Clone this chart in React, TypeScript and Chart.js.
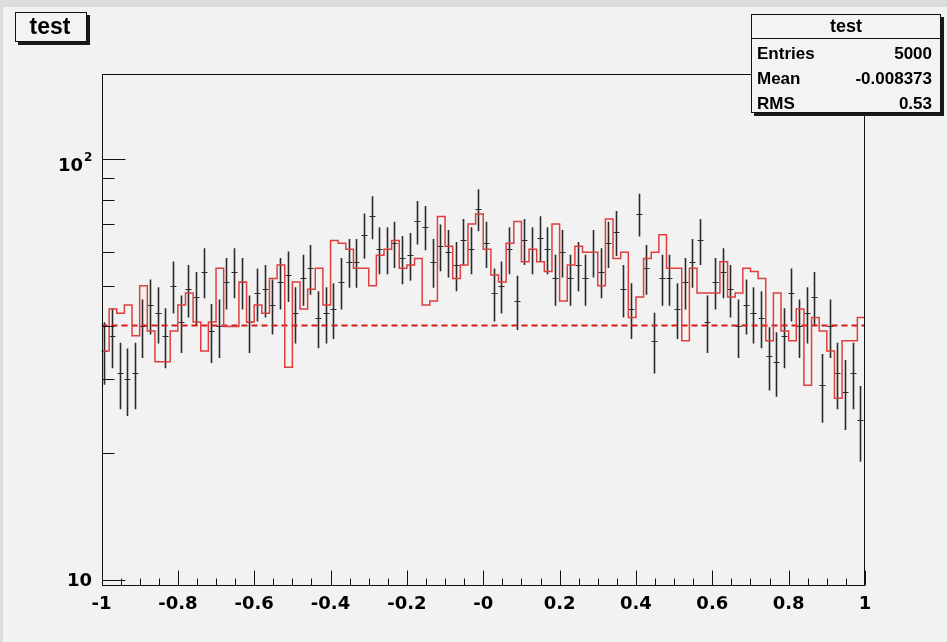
import React, { useEffect, useRef } from 'react';
import { Chart, registerables } from 'chart.js';

Chart.register(...registerables);

// ---- data ----
const X_MIN = -1;
const X_MAX = 1;
const BIN_COUNT = 100;

// black points (counts with sqrt(N) errors)
const dataCounts = [
  35, 38, 31, 30, 31, 40, 45, 43, 38, 50, 41, 49, 47, 54, 39, 40, 51, 54, 51, 41, 48, 49, 45, 51, 53,
  43, 52, 55, 42, 43, 44, 51, 57, 57, 66, 73, 61, 61, 63, 58, 59, 71, 69, 57, 62, 60, 56, 64, 61, 76,
  63, 48, 50, 61, 46, 64, 61, 65, 61, 52, 60, 52, 56, 52, 60, 54, 63, 67, 49, 44, 74, 55, 37, 52, 52,
  44, 51, 57, 64, 41, 51, 54, 49, 40, 45, 43, 42, 34, 33, 38, 48, 40, 43, 47, 29, 40, 31, 28, 31, 24,
];

// red step histogram
const refCounts = [
  35, 44, 43, 45, 38, 50, 39, 33, 33, 39, 45, 48, 41, 35, 41, 55, 40, 40, 51, 41, 45, 43, 52, 56, 32,
  51, 44, 49, 55, 45, 64, 63, 61, 55, 55, 50, 59, 61, 64, 55, 56, 58, 45, 46, 73, 62, 52, 56, 70, 74,
  61, 53, 51, 63, 71, 57, 61, 57, 54, 70, 46, 56, 62, 60, 60, 50, 72, 58, 60, 42, 47, 58, 60, 66, 55,
  55, 37, 55, 48, 48, 48, 57, 47, 48, 55, 54, 52, 37, 48, 39, 37, 44, 29, 42, 39, 35, 27, 37, 37, 42,
];

// red dashed constant level
const fitLevel = 40.2;

const Y_MIN = 9.68;
const Y_MAX = 159;

const xTickValues = [-1, -0.8, -0.6, -0.4, -0.2, 0, 0.2, 0.4, 0.6, 0.8, 1];
const xTickLabels = ['-1', '-0.8', '-0.6', '-0.4', '-0.2', '-0', '0.2', '0.4', '0.6', '0.8', '1'];
const xMinorStep = 0.05;
const yMajorValues = [10, 100];
const yMinorValues = [20, 30, 40, 50, 60, 70, 80, 90];

const titleText = 'test';
const statsTitle = 'test';
const statsLabels = ['Entries', 'Mean', 'RMS'];
const statsValues = ['5000', '-0.008373', '0.53'];

const FONT = '"Liberation Sans", Arial, Helvetica, sans-serif';
const AXIS_FONT = '"DejaVu Sans", "Liberation Sans", sans-serif';

function drawShadowBox(ctx: CanvasRenderingContext2D, x: number, y: number, w: number, h: number) {
  ctx.fillStyle = '#1a1a1a';
  ctx.fillRect(x + 3, y + 3, w, h);
  ctx.fillStyle = '#f3f3f3';
  ctx.fillRect(x, y, w, h);
  ctx.strokeStyle = '#111';
  ctx.lineWidth = 1;
  ctx.strokeRect(x + 0.5, y + 0.5, w - 1, h - 1);
}

const rootPlugin = {
  id: 'rootStyle',
  beforeDraw(chart: any) {
    const { ctx, width, height } = chart;
    ctx.save();
    ctx.fillStyle = '#f2f2f2';
    ctx.fillRect(0, 0, width, height);
    ctx.fillStyle = '#dcdcdc';
    ctx.fillRect(0, 0, width, 7);
    ctx.fillRect(0, 0, 3, height);
    ctx.restore();
  },
  beforeDatasetsDraw(chart: any) {
    const { ctx, chartArea } = chart;
    const xs = chart.scales.x;
    const ys = chart.scales.y;
    const w = (X_MAX - X_MIN) / BIN_COUNT;
    ctx.save();
    ctx.beginPath();
    ctx.rect(chartArea.left, chartArea.top, chartArea.right - chartArea.left, chartArea.bottom - chartArea.top);
    ctx.clip();
    ctx.strokeStyle = '#2a2a2a';
    for (let i = 0; i < dataCounts.length; i++) {
      const v = dataCounts[i];
      const e = Math.sqrt(v);
      const cx = Math.round(xs.getPixelForValue(X_MIN + (i + 0.5) * w)) - 0.5;
      const yTop = ys.getPixelForValue(v + e);
      const yBot = ys.getPixelForValue(Math.max(v - e, Y_MIN * 0.9));
      const yMid = Math.round(ys.getPixelForValue(v)) + 0.5;
      ctx.lineWidth = 1.6;
      ctx.beginPath();
      ctx.moveTo(cx, yTop);
      ctx.lineTo(cx, yBot);
      ctx.stroke();
      ctx.lineWidth = 1.2;
      ctx.beginPath();
      ctx.moveTo(cx - 3, yMid);
      ctx.lineTo(cx + 3, yMid);
      ctx.stroke();
    }
    ctx.restore();
  },
  afterDatasetsDraw(chart: any) {
    const { ctx, chartArea } = chart;
    const xs = chart.scales.x;
    const ys = chart.scales.y;
    const L = chartArea.left, R = chartArea.right, T = chartArea.top, B = chartArea.bottom;
    ctx.save();
    ctx.strokeStyle = '#111';
    ctx.lineWidth = 1;
    const l = Math.round(L) + 0.5, r = Math.round(R) - 0.5, t = Math.round(T) + 0.5, b = Math.round(B) - 0.5;
    ctx.strokeRect(l, t, r - l, b - t);
    // x ticks
    ctx.beginPath();
    const nMinor = Math.round((X_MAX - X_MIN) / xMinorStep);
    for (let k = 0; k <= nMinor; k++) {
      const v = X_MIN + k * xMinorStep;
      const px = Math.round(xs.getPixelForValue(v)) + 0.5;
      const isMajor = xTickValues.some((m) => Math.abs(m - v) < 1e-9);
      const len = isMajor ? 15 : 7;
      ctx.moveTo(px, b);
      ctx.lineTo(px, b - len);
    }
    // y ticks
    for (const v of yMajorValues) {
      const py = Math.round(ys.getPixelForValue(v)) + 0.5;
      ctx.moveTo(l, py);
      ctx.lineTo(l + 23, py);
    }
    for (const v of yMinorValues) {
      const py = Math.round(ys.getPixelForValue(v)) + 0.5;
      ctx.moveTo(l, py);
      ctx.lineTo(l + 12, py);
    }
    ctx.stroke();

    // y labels
    ctx.fillStyle = '#000';
    ctx.textAlign = 'right';
    ctx.textBaseline = 'middle';
    ctx.font = `bold 18px ${AXIS_FONT}`;
    const y10 = ys.getPixelForValue(10);
    ctx.fillText('10', 92, y10 + 1);
    const y100 = ys.getPixelForValue(100);
    ctx.fillText('10', 83, y100 + 7);
    ctx.font = `bold 12px ${AXIS_FONT}`;
    ctx.textAlign = 'left';
    ctx.fillText('2', 84, y100 - 1);
    ctx.restore();
  },
  afterDraw(chart: any) {
    const { ctx } = chart;
    ctx.save();
    // title box
    drawShadowBox(ctx, 15, 12, 72, 30);
    ctx.fillStyle = '#000';
    ctx.font = `bold 23px ${FONT}`;
    ctx.textAlign = 'center';
    ctx.textBaseline = 'middle';
    ctx.fillText(titleText, 50, 28);

    // stats box
    const bx = 751, by = 14, bw = 190, bh = 99;
    drawShadowBox(ctx, bx, by, bw, bh);
    ctx.beginPath();
    ctx.moveTo(bx, by + 24.5);
    ctx.lineTo(bx + bw, by + 24.5);
    ctx.stroke();
    ctx.fillStyle = '#000';
    ctx.font = `bold 18px ${FONT}`;
    ctx.textAlign = 'center';
    ctx.fillText(statsTitle, bx + bw / 2, by + 13);
    ctx.font = `bold 17px ${FONT}`;
    const rowsY = [54, 79, 104];
    for (let i = 0; i < statsLabels.length; i++) {
      ctx.textAlign = 'left';
      ctx.fillText(statsLabels[i], 757, rowsY[i]);
      ctx.textAlign = 'right';
      ctx.fillText(statsValues[i], 932, rowsY[i]);
    }
    ctx.restore();
  },
};

export default function App() {
  const canvasRef = useRef<HTMLCanvasElement | null>(null);

  useEffect(() => {
    document.body.style.margin = '0';
    document.body.style.background = '#f2f2f2';
    const canvas = canvasRef.current;
    if (!canvas) return;
    const w = (X_MAX - X_MIN) / BIN_COUNT;
    const histPoints = refCounts.map((v, i) => ({ x: X_MIN + i * w, y: v }));
    histPoints.push({ x: X_MAX, y: refCounts[refCounts.length - 1] });

    const chart = new Chart(canvas, {
      type: 'line',
      data: {
        datasets: [
          {
            label: 'hist',
            data: histPoints,
            stepped: 'before',
            borderColor: 'rgb(222,62,62)',
            borderWidth: 1.5,
            pointRadius: 0,
            fill: false,
            tension: 0,
          },
          {
            label: 'fit',
            data: [
              { x: X_MIN, y: fitLevel },
              { x: X_MAX, y: fitLevel },
            ],
            borderColor: 'rgb(215,25,25)',
            borderWidth: 2,
            borderDash: [6, 4],
            pointRadius: 0,
            fill: false,
          },
        ],
      },
      options: {
        animation: false,
        responsive: false,
        devicePixelRatio: 1,
        layout: { padding: { left: 0, top: 74, right: 82, bottom: 0 } },
        plugins: {
          legend: { display: false },
          tooltip: { enabled: false },
          title: { display: false },
        },
        scales: {
          x: {
            type: 'linear',
            min: X_MIN,
            max: X_MAX,
            grid: { display: false, drawTicks: false },
            border: { display: false },
            afterBuildTicks: (scale: any) => {
              scale.ticks = xTickValues.map((v) => ({ value: v }));
            },
            afterFit: (scale: any) => {
              scale.height = 56;
            },
            ticks: {
              autoSkip: false,
              maxRotation: 0,
              padding: 8,
              color: '#000',
              font: { family: AXIS_FONT, weight: 'bold', size: 18 },
              callback: (_v: any, idx: number) => xTickLabels[idx],
            },
          },
          y: {
            type: 'logarithmic',
            min: Y_MIN,
            max: Y_MAX,
            grid: { display: false, drawTicks: false },
            border: { display: false },
            ticks: { display: false },
            afterFit: (scale: any) => {
              scale.width = 101.5;
            },
          },
        },
      } as any,
      plugins: [rootPlugin],
    });
    return () => chart.destroy();
  }, []);

  return (
    <div style={{ width: 947, height: 642, background: '#f2f2f2' }}>
      <canvas ref={canvasRef} width={947} height={642} style={{ display: 'block' }} />
    </div>
  );
}
